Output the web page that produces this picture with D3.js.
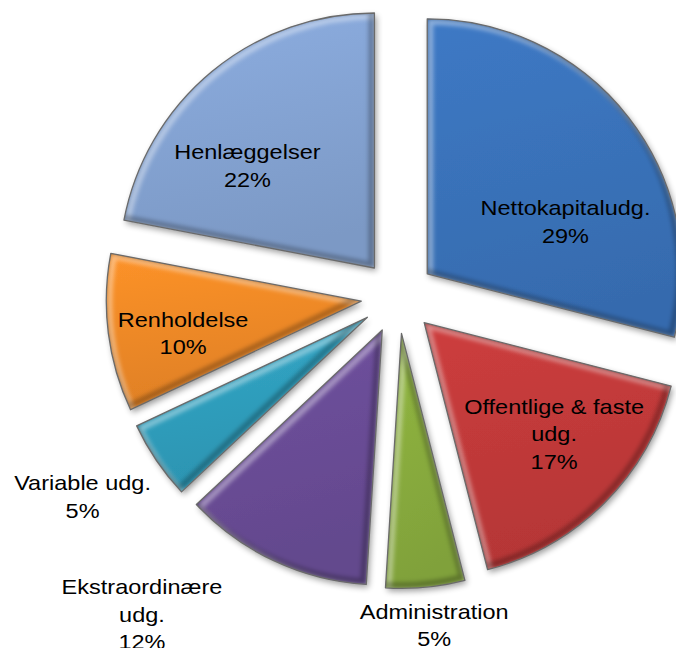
<!DOCTYPE html>
<html>
<head>
<meta charset="utf-8">
<script src="https://cdn.jsdelivr.net/npm/d3@7"></script>
<style>
body { margin: 0; background: #fff; }
text { font-family: "Liberation Sans", Arial, sans-serif; }
</style>
</head>
<body>
<svg id="chart"></svg>
<script>
// data
var categories = ["Nettokapitaludg.", "Offentlige & faste udg.", "Administration",
                  "Ekstraordinære udg.", "Variable udg.", "Renholdelse", "Henlæggelser"];
var values = [29, 17, 5, 12, 5, 10, 22];
var labelLines = [["Nettokapitaludg."], ["Offentlige & faste", "udg."], ["Administration"],
                  ["Ekstraordinære", "udg."], ["Variable udg."], ["Renholdelse"], ["Henlæggelser"]];
var colors = ["#3a73bb", "#c23a3a", "#8aad3e", "#6a4d97", "#2f9fbe", "#f08a27", "#85a4d4"];

// label layout: distance (fraction of radius) from slice tip, angle tweak in degrees
var labelLayout = [[0.58, 17], [0.67, -4.5], [1.15, -1], [1.46, 15], [1.32, 2], [0.71, -3], [0.64, -11.5]];

var width = 676, height = 648;
var cx = 398, cy = 296.5, radius = 255, explode = 37;
var lineH = 27.5;

var svg = d3.select("#chart").attr("width", width).attr("height", height);
var defs = svg.append("defs");

var total = d3.sum(values);
var pie = d3.pie().sort(null).value(function(d) { return d; });
var arcs = pie(values);
var arc = d3.arc().innerRadius(0).outerRadius(radius);

function mid(d) { return (d.startAngle + d.endAngle) / 2; }
function tip(d) { return [cx + explode * Math.sin(mid(d)), cy - explode * Math.cos(mid(d))]; }

// shadow
var sh = defs.append("filter").attr("id", "shadow")
    .attr("x", "-20%").attr("y", "-20%").attr("width", "140%").attr("height", "140%");
sh.append("feGaussianBlur").attr("in", "SourceAlpha").attr("stdDeviation", 3).attr("result", "b");
sh.append("feOffset").attr("in", "b").attr("dx", 2).attr("dy", 3).attr("result", "o");
sh.append("feComponentTransfer").attr("in", "o").attr("result", "s")
    .append("feFuncA").attr("type", "linear").attr("slope", 0.4);
var m = sh.append("feMerge");
m.append("feMergeNode").attr("in", "s");
m.append("feMergeNode").attr("in", "SourceGraphic");

defs.append("filter").attr("id", "soft")
    .append("feGaussianBlur").attr("stdDeviation", 2);

arcs.forEach(function(d, i) {
    var c = d3.color(colors[i]);
    var g = defs.append("linearGradient").attr("id", "grad" + i)
        .attr("x1", 0).attr("y1", 0).attr("x2", 0.2).attr("y2", 1);
    g.append("stop").attr("offset", "0%").attr("stop-color", c.brighter(0.15).formatHex());
    g.append("stop").attr("offset", "100%").attr("stop-color", c.darker(0.2).formatHex());
    defs.append("clipPath").attr("id", "clip" + i)
        .append("path").attr("d", arc(d));
});

var slices = svg.append("g").selectAll("g.slice")
    .data(arcs)
    .enter().append("g")
    .attr("class", "slice")
    .attr("transform", function(d) { return "translate(" + tip(d) + ")"; });

slices.append("path")
    .attr("d", arc)
    .attr("fill", function(d, i) { return "url(#grad" + i + ")"; })
    .attr("filter", "url(#shadow)");

// bevel: light top-left edges, dark bottom-right edges
var bev = slices.append("g").attr("clip-path", function(d, i) { return "url(#clip" + i + ")"; });
bev.append("path")
    .attr("d", arc)
    .attr("transform", "translate(3,3)")
    .attr("fill", "none")
    .attr("stroke", "#fff")
    .attr("stroke-opacity", 0.4)
    .attr("stroke-width", 6)
    .attr("filter", "url(#soft)");
bev.append("path")
    .attr("d", arc)
    .attr("transform", "translate(-3,-3)")
    .attr("fill", "none")
    .attr("stroke", "#000")
    .attr("stroke-opacity", 0.28)
    .attr("stroke-width", 6)
    .attr("filter", "url(#soft)");

slices.append("path")
    .attr("d", arc)
    .attr("fill", "none")
    .attr("stroke", "#6a6a6a")
    .attr("stroke-width", 1.3)
    .attr("stroke-linejoin", "round");

// labels
var labels = svg.append("g").selectAll("text.lbl")
    .data(arcs)
    .enter().append("text")
    .attr("class", "lbl")
    .attr("text-anchor", "middle")
    .attr("font-size", "21px")
    .attr("fill", "#000")
    .each(function(d, i) {
        var t = tip(d);
        var a = mid(d) + labelLayout[i][1] * Math.PI / 180;
        var r = labelLayout[i][0] * radius;
        var x = t[0] + r * Math.sin(a);
        var y = t[1] - r * Math.cos(a);
        var lines = labelLines[i].concat([Math.round(d.data / total * 100) + "%"]);
        var y0 = -(lines.length - 1) * lineH / 2 + 7.5;
        var txt = d3.select(this)
            .attr("transform", "translate(" + x + "," + y + ") scale(1.12,1)");
        lines.forEach(function(s, k) {
            txt.append("tspan").attr("x", 0).attr("y", y0 + k * lineH).text(s);
        });
    });
</script>
</body>
</html>
